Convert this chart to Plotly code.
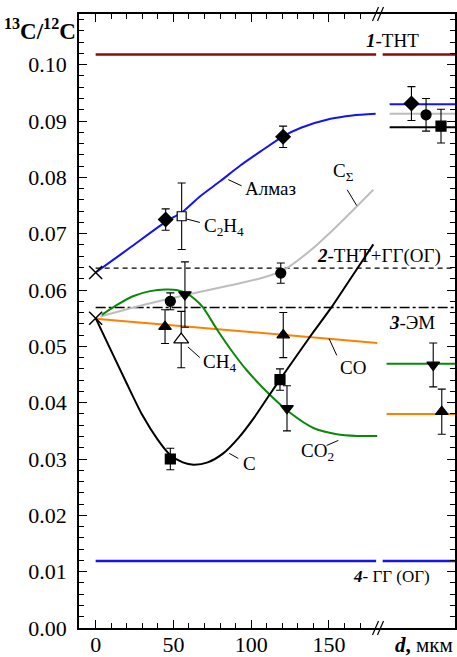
import plotly.graph_objects as go

# ---------------- data ----------------
# reference levels of 13C/12C
lvl_tnt = 0.1018        # 1 - ТНТ
lvl_tnt_gg = 0.0639     # 2 - ТНТ+ГГ(ОГ)
lvl_em = 0.0569         # 3 - ЭМ
lvl_gg = 0.0119         # 4 - ГГ(ОГ)

# x-axis layout (мкм): left part 0..180, break, right part for the final values
x_min = -10.7
x_max = 231
x_break = 181.5
x_left_end = 180.3
x_right_start = 184.5
x_right_lines = 189
x_right_lines_co = 187

# starting compositions at d = 0
start_x = [0, 0]
start_y = [0.0631, 0.0550]

# model curves
almaz_x = [0, 9, 22, 45, 56, 67, 80, 93, 106, 120, 132, 151, 165, 180]
almaz_y = [0.0631, 0.0649, 0.0675, 0.0721, 0.0739, 0.0766, 0.0793, 0.0821, 0.0846,
           0.0872, 0.0888, 0.0904, 0.0910, 0.0913]

csum_x = [3, 20, 48, 86, 105, 120, 138, 150, 163, 178.5]
csum_y = [0.0553, 0.0566, 0.0585, 0.0608, 0.0620, 0.0634, 0.0670, 0.0700, 0.0735, 0.0778]

co2_x = [4, 14, 24, 35, 45, 52, 58.5, 64, 69, 78, 88, 97, 112, 125, 140, 155, 168, 181]
co2_y = [0.0556, 0.0574, 0.0589, 0.0598, 0.0601, 0.0600, 0.0594, 0.0583, 0.0569, 0.0530,
         0.0490, 0.0458, 0.0414, 0.0382, 0.0355, 0.0344, 0.0341, 0.0341]

co_x = [0, 181]
co_y = [0.0549, 0.0506]

c_x = [0, 10, 20, 30, 40, 48, 56, 63, 72, 82, 92, 102, 112, 122, 137, 152, 165, 178.5]
c_y = [0.0550, 0.0492, 0.0434, 0.0378, 0.0334, 0.0307, 0.0294, 0.0290, 0.0294, 0.0310,
       0.0338, 0.0374, 0.0415, 0.0455, 0.0514, 0.0571, 0.0625, 0.0681]

# final (right-part) levels
fin_almaz = 0.0930
fin_csum = 0.0913
fin_c = 0.0889
fin_co2 = 0.0469
fin_co = 0.0380

# measured points with errors
diam_x = [45, 120.5, 203]
diam_y = [0.0725, 0.0872, 0.0931]
diam_e = [0.0019, 0.0019, 0.0030]

circ_x = [48, 119, 212.4]
circ_y = [0.0580, 0.0630, 0.0911]
circ_e = [0.0015, 0.0018, 0.0029]

sq_x = [48, 118.5, 222]
sq_y = [0.0300, 0.0441, 0.0891]
sq_e = [0.0019, 0.0019, 0.0030]

tri_x = [44.6, 120.6, 222.5]
tri_y = [0.0535, 0.0520, 0.0384]
tri_e = [0.0030, 0.0040, 0.0040]

tdn_x = [57.4, 123, 217]
tdn_y = [0.0592, 0.0390, 0.0467]
tdn_e = [0.0058, 0.0040, 0.0039]

c2h4_x = [55.3]
c2h4_y = [0.0731]
c2h4_e = [0.0059]

ch4_x = [55]
ch4_y = [0.0512]
ch4_e = [0.0050]

x_ticks = [0, 50, 100, 150]
x_minor = [v for v in range(10, 171, 10) if v % 50]

# ---------------- style ----------------
FONT = "Liberation Serif"
BLUE = "#1414f0"
MAROON = "#8b0a0a"
GRAY = "#bdbdbd"
GREEN = "#0a880a"
ORANGE = "#ff8000"

fig = go.Figure()


def line(x, y, color, width=2.0, dash=None):
    fig.add_trace(go.Scatter(x=x, y=y, mode="lines", showlegend=False, hoverinfo="skip",
                             line=dict(color=color, width=width, dash=dash, shape="spline",
                                       smoothing=0.7)))


# reference levels
line([0, x_left_end], [lvl_tnt] * 2, MAROON, 2.5)
line([x_right_start, x_max], [lvl_tnt] * 2, MAROON, 2.5)
line([0, x_left_end], [lvl_gg] * 2, BLUE, 2.5)
line([x_right_start, x_max], [lvl_gg] * 2, BLUE, 2.5)
line([0, x_max], [lvl_tnt_gg] * 2, "black", 1.3, "5px,4px")
line([0, x_max], [lvl_em] * 2, "black", 1.3, "10px,3px,3px,3px")

# model curves
line(csum_x, csum_y, GRAY)
line(co_x, co_y, ORANGE)
line(co2_x, co2_y, GREEN)
line(almaz_x, almaz_y, BLUE)
line(c_x, c_y, "black")

# final levels on the right part
line([x_right_lines, x_max], [fin_almaz] * 2, BLUE)
line([x_right_lines, x_max], [fin_csum] * 2, GRAY)
line([x_right_lines, x_max], [fin_c] * 2, "black")
line([x_right_lines_co, x_max], [fin_co2] * 2, GREEN)
line([x_right_lines_co, x_max], [fin_co] * 2, ORANGE)

# starting points
fig.add_trace(go.Scatter(x=start_x, y=start_y, mode="markers", showlegend=False,
                         marker=dict(symbol="x-thin", size=13, color="black",
                                     line=dict(color="black", width=1.5))))


def pts(x, y, e, symbol, size, fill="black"):
    fig.add_trace(go.Scatter(
        x=x, y=y, mode="markers", showlegend=False,
        marker=dict(symbol=symbol, size=size, color=fill,
                    line=dict(color="black", width=1.2)),
        error_y=dict(type="data", array=e, visible=True, color="black",
                     thickness=1.1, width=4)))


pts(diam_x, diam_y, diam_e, "diamond", 11)
pts(circ_x, circ_y, circ_e, "circle", 10)
pts(sq_x, sq_y, sq_e, "square", 10)
pts(tri_x, tri_y, tri_e, "triangle-up", 11)
pts(tdn_x, tdn_y, tdn_e, "triangle-down", 11)
pts(c2h4_x, c2h4_y, c2h4_e, "square", 9, "white")
pts(ch4_x, ch4_y, ch4_e, "triangle-up", 13, "white")

# ---------------- labels ----------------
annotations = []


def label(x, y, text, anchor="left", size=19):
    annotations.append(dict(x=x, y=y, xref="x", yref="y", text=text, showarrow=False,
                            xanchor=anchor, yanchor="middle",
                            font=dict(family=FONT, size=size, color="black")))


label(190.5, 0.1043, "<b><i>1</i></b>-ТНТ", "center")
label(182, 0.0660, "<b><i>2</i></b>-ТНТ+ГГ(ОГ)", "center")
label(203.6, 0.0543, "<b><i>3</i></b>-ЭМ", "center")
label(190, 0.0091, "<b><i>4</i></b>- ГГ (ОГ)", "center", 17)
label(94.9, 0.0780, "Алмаз")
label(68.5, 0.0711, "C<sub>2</sub>H<sub>4</sub>")
label(151.5, 0.0810, "C<sub>Σ</sub>")
label(68.0, 0.0470, "CH<sub>4</sub>")
label(156, 0.0462, "CO")
label(131, 0.0312, "CO<sub>2</sub>")
label(93.3, 0.0292, "C")

# leader lines from labels to their curves/points
leaders = [
    ((85.2, 0.0796), (93.8, 0.0785)),
    ((58.5, 0.0726), (67.0, 0.0720)),
    ((161.7, 0.0778), (167.8, 0.0750)),
    ((59.3, 0.0499), (67.0, 0.0480)),
    ((150.0, 0.0514), (155.0, 0.0484)),
    ((148.5, 0.0324), (156.0, 0.0333)),
    ((85.9, 0.0310), (91.7, 0.0301)),
]
shapes = []
for (xa, ya), (xb, yb) in leaders:
    shapes.append(dict(type="line", xref="x", yref="y", x0=xa, y0=ya, x1=xb, y1=yb,
                       line=dict(color="black", width=1)))

# axis-break marks on the bottom and top axes
for ya in (0, 1):
    for dx in (0, 5):
        shapes.append(dict(type="line", xref="x", yref="paper", xsizemode="pixel",
                           ysizemode="pixel", xanchor=x_break, yanchor=ya,
                           x0=-5.5 + dx, x1=0.5 + dx, y0=-7, y1=7,
                           line=dict(color="black", width=1.2)))

# axis titles
annotations.append(dict(x=0, y=0.974, xref="paper", yref="paper", xanchor="right",
                        yanchor="middle", xshift=-1, showarrow=False,
                        text="<b><sup>13</sup>C/<sup>12</sup>C</b>",
                        font=dict(family=FONT, size=23, color="black")))
annotations.append(dict(x=1, y=-0.027, xref="paper", yref="paper", xanchor="right",
                        yanchor="middle", showarrow=False,
                        text="<b><i>d</i>,</b> мкм",
                        font=dict(family=FONT, size=21, color="black")))

fig.update_layout(
    width=457, height=657,
    margin=dict(l=79, r=2, t=14, b=29, autoexpand=False),
    paper_bgcolor="white", plot_bgcolor="white",
    font=dict(family=FONT, size=22, color="black"),
    showlegend=False,
    annotations=annotations,
    shapes=shapes,
)

fig.update_xaxes(
    range=[x_min, x_max], showgrid=False, zeroline=False, automargin=False,
    showline=True, linecolor="black", linewidth=1.5, mirror="allticks",
    tickmode="array", tickvals=x_ticks, ticks="inside", ticklen=8, tickwidth=1.2,
    tickcolor="black", ticklabelstandoff=-4,
    minor=dict(tickmode="array", tickvals=x_minor, ticks="inside", ticklen=5,
               tickwidth=1.2, tickcolor="black"),
    tickfont=dict(family=FONT, size=22),
)
fig.update_yaxes(
    range=[0, 0.109], showgrid=False, zeroline=False, automargin=False,
    showline=True, linecolor="black", linewidth=1.5, mirror="allticks",
    tickmode="linear", tick0=0, dtick=0.01, tickformat=".2f",
    ticks="inside", ticklen=8, tickwidth=1.2, tickcolor="black", ticklabelstandoff=6,
    minor=dict(dtick=0.002, ticks="inside", ticklen=5, tickwidth=1.2, tickcolor="black"),
    tickfont=dict(family=FONT, size=22),
)

fig.write_html("out.html")
